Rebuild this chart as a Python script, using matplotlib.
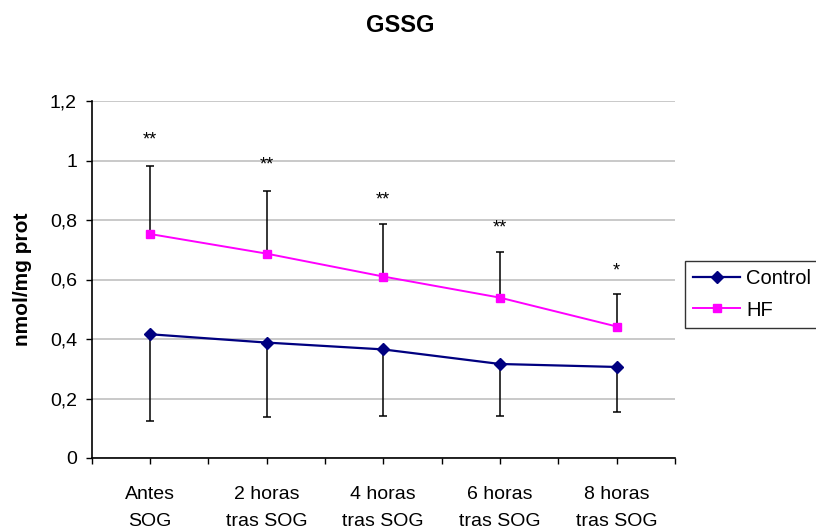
import matplotlib
matplotlib.use("Agg")
import matplotlib.pyplot as plt
from matplotlib.lines import Line2D

plt.rcParams['font.family'] = ['Liberation Sans', 'DejaVu Sans']

categories = ["Antes\nSOG", "2 horas\ntras SOG", "4 horas\ntras SOG", "6 horas\ntras SOG", "8 horas\ntras SOG"]
control = [0.416, 0.388, 0.365, 0.316, 0.306]
control_err_low = [0.291, 0.251, 0.223, 0.174, 0.153]
hf = [0.753, 0.687, 0.610, 0.539, 0.442]
hf_err_up = [0.230, 0.209, 0.175, 0.154, 0.110]
stars = ["**", "**", "**", "**", "*"]
star_y = [1.084, 0.998, 0.882, 0.788, 0.644]
yticks = [0, 0.2, 0.4, 0.6, 0.8, 1.0, 1.2]
ytick_labels = ["0", "0,2", "0,4", "0,6", "0,8", "1", "1,2"]

fig = plt.figure(figsize=(8.16, 5.31), dpi=100)
ax = fig.add_axes([91.5 / 816, 1 - 458 / 531, (675 - 91.5) / 816, (458 - 101) / 531])

x = list(range(len(categories)))
ax.errorbar(x, control, yerr=[control_err_low, [0]*5], fmt='none', ecolor='black',
            elinewidth=1.1, capsize=3, capthick=1.1, zorder=3)
ax.errorbar(x, hf, yerr=[[0]*5, hf_err_up], fmt='none', ecolor='black',
            elinewidth=1.1, capsize=3, capthick=1.1, zorder=3)
ax.plot(x, control, color='#000080', marker='D', markersize=6, linewidth=1.6, zorder=4, label='Control')
ax.plot(x, hf, color='#FF00FF', marker='s', markersize=6, linewidth=1.4, zorder=4, label='HF')

for xi, s, sy in zip(x, stars, star_y):
    ax.annotate(s, (xi, sy), xytext=(0, -3), textcoords='offset points',
                ha='center', va='center', fontsize=13)

ax.set_xlim(-0.5, 4.5)
ax.set_ylim(0, 1.2)
ax.set_yticks(yticks)
ax.set_yticklabels(ytick_labels, fontsize=14)
ax.set_xticks([i * 0.5 - 0.5 for i in range(11)])
ax.set_xticklabels(["" if i % 2 == 0 else categories[i // 2] for i in range(11)], fontsize=14,
                   linespacing=1.75)
ax.tick_params(axis='both', direction='out', length=4.5, width=1, color='black')
ax.tick_params(axis='x', pad=15.5)
ax.tick_params(axis='y', pad=6)
ax.yaxis.grid(True, color='#c0c0c0', linewidth=1.2)
ax.set_axisbelow(True)
for sp in ['top', 'right']:
    ax.spines[sp].set_visible(False)
for sp in ['left', 'bottom']:
    ax.spines[sp].set_linewidth(1.2)
ax.set_ylabel("nmol/mg prot", fontsize=15, fontweight='bold', labelpad=12.5)

fig.text(400 / 816, 1 - 25 / 531, "GSSG", ha='center', va='center', fontsize=17, fontweight='bold')

leg = fig.legend(handles=[Line2D([0], [0], color='#000080', marker='D', markersize=6, linewidth=1.6),
                          Line2D([0], [0], color='#FF00FF', marker='s', markersize=6, linewidth=1.4)],
                 labels=['Control', 'HF'], loc='upper left', bbox_to_anchor=(685 / 816, 1 - 261 / 531),
                 bbox_transform=fig.transFigure, fontsize=14.5, frameon=True, fancybox=False,
                 edgecolor='black', handlelength=2.3, borderaxespad=0, borderpad=0.42,
                 labelspacing=0.6, handletextpad=0.33)
leg.get_frame().set_linewidth(1.0)

fig.savefig("out.png", dpi=100)
